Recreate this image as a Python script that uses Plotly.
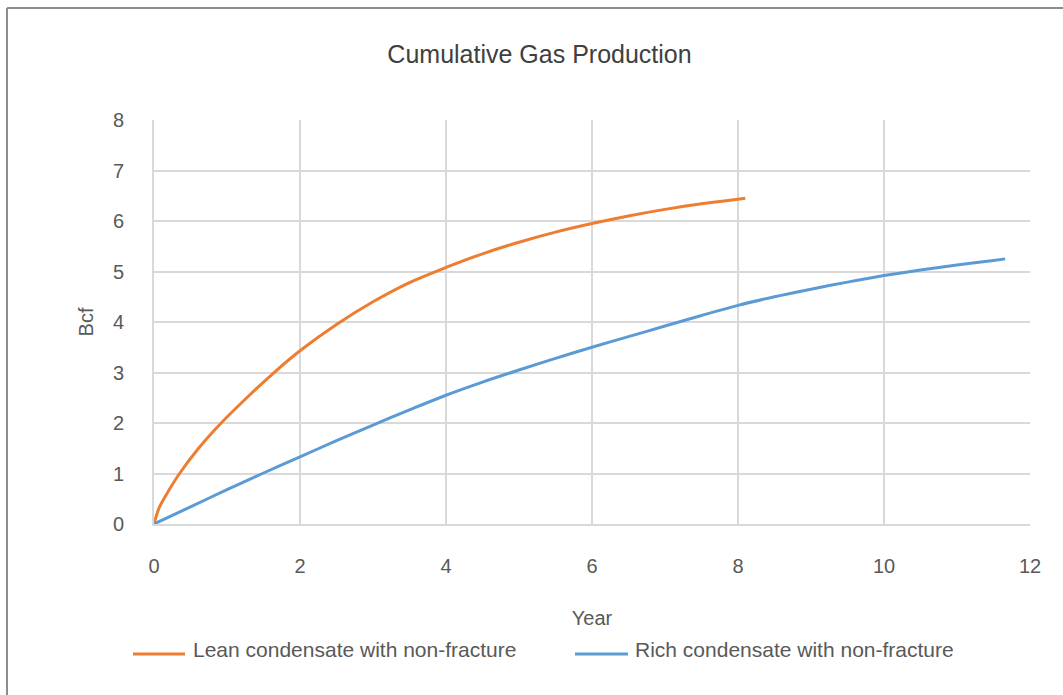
import plotly.graph_objects as go

# Lean condensate with non-fracture: cumulative gas (Bcf) by year
lean_years = [0, 0.07, 0.16, 0.35, 0.6, 0.92, 1.3, 1.63, 2.0, 2.5, 3.0, 3.5, 4.0,
              4.5, 5.0, 5.5, 6.0, 6.5, 7.0, 7.5, 8.0, 8.1]
lean_bcf = [0, 0.32, 0.56, 1.0, 1.48, 2.0, 2.54, 2.98, 3.43, 3.95, 4.4, 4.78, 5.08,
            5.35, 5.58, 5.78, 5.95, 6.1, 6.23, 6.34, 6.43, 6.45]

# Rich condensate with non-fracture: cumulative gas (Bcf) by year
rich_years = [0, 0.5, 1, 1.5, 2, 2.5, 3, 3.5, 4, 4.5, 5, 5.5, 6, 6.5, 7, 7.5, 8,
              8.5, 9, 9.5, 10, 10.5, 11, 11.5, 11.66]
rich_bcf = [0, 0.34, 0.68, 1.01, 1.33, 1.65, 1.96, 2.26, 2.55, 2.81, 3.05, 3.28, 3.5,
            3.71, 3.92, 4.13, 4.33, 4.5, 4.65, 4.79, 4.92, 5.03, 5.13, 5.22, 5.25]

series_names = ["Lean condensate with non-fracture", "Rich condensate with non-fracture"]
series_colors = ["#ED7D31", "#5B9BD5"]

x_ticks = [0, 2, 4, 6, 8, 10, 12]
y_ticks = [0, 1, 2, 3, 4, 5, 6, 7, 8]

TEXT = "#595959"
GRID = "#D9D9D9"
FONT = "Liberation Sans, Arial, sans-serif"

# plot-area geometry in pixels, used to place the legend and frame in paper units
W, H = 1063, 695
L, R, T, B = 154, 33, 120, 171
PW, PH = W - L - R, H - T - B


def px_x(px):
    return (px - L) / PW


def px_y(py):
    return (H - B - py) / PH


fig = go.Figure()
for xs, ys, name, color in [(lean_years, lean_bcf, series_names[0], series_colors[0]),
                            (rich_years, rich_bcf, series_names[1], series_colors[1])]:
    fig.add_trace(go.Scatter(
        x=xs, y=ys, mode="lines", name=name, showlegend=False,
        line=dict(color=color, width=3, shape="spline", smoothing=0.9),
    ))

# legend below the axis title: line sample + label per series
legend_items = [(133, 185, 191), (575, 628, 633)]
for (lx0, lx1, tx), name, color in zip(legend_items, series_names, series_colors):
    fig.add_shape(type="line", xref="paper", yref="paper",
                  x0=px_x(lx0), x1=px_x(lx1), y0=px_y(654), y1=px_y(654),
                  line=dict(color=color, width=3))
    fig.add_annotation(x=px_x(tx), y=px_y(649), xref="paper", yref="paper",
                       text=name, showarrow=False, xanchor="left", yanchor="middle",
                       font=dict(size=21, color=TEXT))

# chart-area frame (top and left edges)
fig.add_shape(type="line", xref="paper", yref="paper",
              x0=px_x(7), x1=px_x(1070), y0=px_y(8), y1=px_y(8),
              line=dict(color="#8C8C8C", width=2))
fig.add_shape(type="line", xref="paper", yref="paper",
              x0=px_x(7), x1=px_x(7), y0=px_y(8), y1=px_y(700),
              line=dict(color="#8C8C8C", width=2))

fig.update_layout(
    width=W, height=H,
    margin=dict(l=L, r=R, t=T, b=B, autoexpand=False),
    paper_bgcolor="white", plot_bgcolor="white",
    font=dict(family=FONT, color=TEXT, size=20),
    title=dict(text="Cumulative Gas Production", x=539.5 / W, xref="container",
               xanchor="center", y=1 - 54 / H, yanchor="middle",
               font=dict(size=25, color="#404040")),
    xaxis=dict(range=[0, 12], tickvals=x_ticks, showgrid=True, gridcolor=GRID,
               gridwidth=2, zeroline=False, showline=True, linecolor=GRID,
               linewidth=2, ticks="", ticklabelstandoff=23, automargin=False,
               tickfont=dict(size=20, color=TEXT),
               title=dict(text="Year", standoff=35, font=dict(size=20, color=TEXT))),
    yaxis=dict(range=[0, 8], tickvals=y_ticks, showgrid=True, gridcolor=GRID,
               gridwidth=2, zeroline=False, showline=True, linecolor=GRID,
               linewidth=2, ticks="", ticklabelstandoff=24, automargin=False,
               tickfont=dict(size=20, color=TEXT),
               title=dict(text="Bcf", standoff=14, font=dict(size=20, color=TEXT))),
    showlegend=False,
)

fig.write_html("out.html")
